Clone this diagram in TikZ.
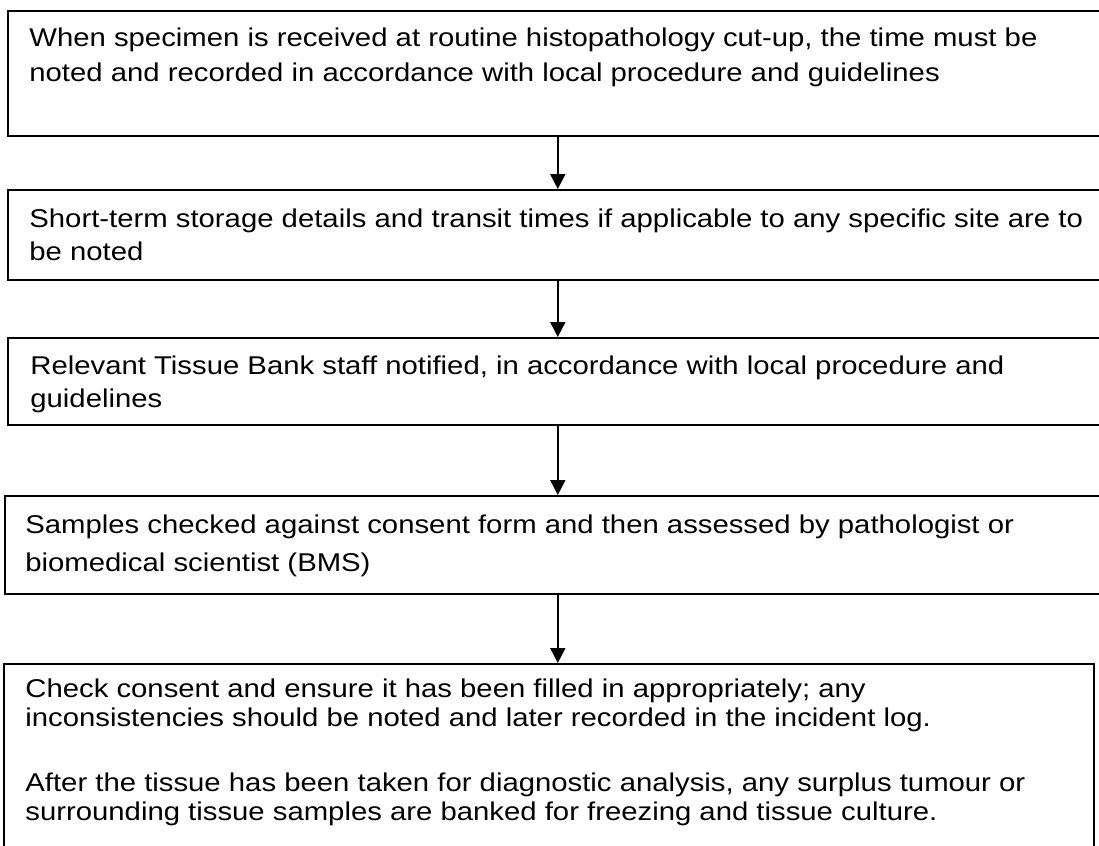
\documentclass[tikz,border=0pt]{standalone}
\usepackage{fontspec}
\setmainfont{Liberation Sans}[FakeStretch=1.14]
\usetikzlibrary{arrows.meta,positioning}

\begin{document}
\begin{tikzpicture}[x=0.5pt,y=-0.5pt,
  box/.style={draw,line width=0.8pt,inner sep=0pt,anchor=north west},
  txt/.style={anchor=base west,inner sep=0pt,align=left},
  flow/.style={line width=1pt,-{Triangle[width=7.5pt,length=7.5pt]}}]

  \path[use as bounding box,clip] (0,0) rectangle (1099,846);

  % Boxes
  \node[box,minimum width=550pt,minimum height=62.5pt] (b1) at (7,10) {};
  \node[box,minimum width=550pt,minimum height=45pt] (b2) at (7,189) {};
  \node[box,minimum width=550pt,minimum height=43.5pt] (b3) at (7,337) {};
  \node[box,minimum width=553pt,minimum height=49pt] (b4) at (4,495) {};
  \node[box,minimum width=545pt,minimum height=103.5pt] (b5) at (3,663) {};

  % Texts (anchored on the last line)
  \node[txt,font=\fontsize{12.85}{17.5}\selectfont] (t1) at (29,81.7)
    {When specimen is received at routine histopathology cut-up, the time must be\\
     noted and recorded in accordance with local procedure and guidelines};
  \node[txt,font=\fontsize{12.85}{16.5}\selectfont] (t2) at (29,260)
    {Short-term storage details and transit times if applicable to any specific site are to\\
     be noted};
  \node[txt,font=\fontsize{12.85}{16.5}\selectfont] (t3) at (30,407)
    {Relevant Tissue Bank staff notified, in accordance with local procedure and\\
     guidelines};
  \node[txt,font=\fontsize{12.85}{19}\selectfont] (t4) at (25,571)
    {Samples checked against consent form and then assessed by pathologist or\\
     biomedical scientist (BMS)};
  \node[txt,font=\fontsize{12.85}{14.5}\selectfont] (t5) at (25,820)
    {Check consent and ensure it has been filled in appropriately; any\\
     inconsistencies should be noted and later recorded in the incident log.\\[18pt]
     After the tissue has been taken for diagnostic analysis, any surplus tumour or\\
     surrounding tissue samples are banked for freezing and tissue culture.};

  % Arrows
  \draw[flow] (b1.south) -- (b2.north);
  \draw[flow] (b2.south) -- (b3.north);
  \draw[flow] (b3.south) -- (b4.north);
  \draw[flow] (b4.south) -- (b4.south |- b5.north);
\end{tikzpicture}
\end{document}
